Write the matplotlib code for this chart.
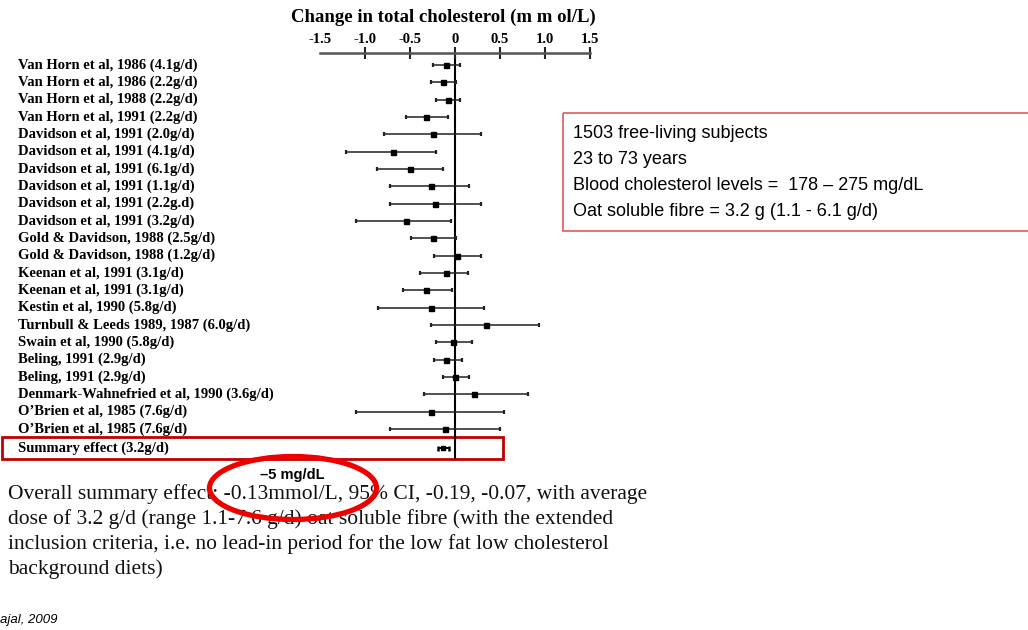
import matplotlib
matplotlib.use("Agg")
import matplotlib.pyplot as plt
import matplotlib.patches as patches
from matplotlib.transforms import blended_transform_factory
import numpy as np

W, H, DPI = 1028, 630, 100

# study rows (top to bottom) and their estimates / 95% CI in mmol/L
studies = [
    "Van Horn et al, 1986 (4.1g/d)",
    "Van Horn et al, 1986 (2.2g/d)",
    "Van Horn et al, 1988 (2.2g/d)",
    "Van Horn et al, 1991 (2.2g/d)",
    "Davidson et al, 1991 (2.0g/d)",
    "Davidson et al, 1991 (4.1g/d)",
    "Davidson et al, 1991 (6.1g/d)",
    "Davidson et al, 1991 (1.1g/d)",
    "Davidson et al, 1991 (2.2g.d)",
    "Davidson et al, 1991 (3.2g/d)",
    "Gold & Davidson, 1988 (2.5g/d)",
    "Gold & Davidson, 1988 (1.2g/d)",
    "Keenan et al, 1991 (3.1g/d)",
    "Keenan et al, 1991 (3.1g/d)",
    "Kestin et al, 1990 (5.8g/d)",
    "Turnbull & Leeds 1989, 1987 (6.0g/d)",
    "Swain et al, 1990 (5.8g/d)",
    "Beling, 1991 (2.9g/d)",
    "Beling, 1991 (2.9g/d)",
    "Denmark-Wahnefried et al, 1990 (3.6g/d)",
    "O\u2019Brien et al, 1985 (7.6g/d)",
    "O\u2019Brien et al, 1985 (7.6g/d)",
]
est = [-0.10, -0.135, -0.075, -0.32, -0.24, -0.69, -0.50, -0.27, -0.22, -0.55, -0.24,
       0.02, -0.10, -0.32, -0.27, 0.34, -0.02, -0.095, 0.005, 0.21, -0.27, -0.115]
lo = [-0.25, -0.27, -0.21, -0.55, -0.79, -1.21, -0.87, -0.72, -0.72, -1.10, -0.49,
      -0.235, -0.39, -0.58, -0.86, -0.27, -0.21, -0.23, -0.135, -0.35, -1.10, -0.72]
hi = [0.055, 0.016, 0.055, -0.083, 0.29, -0.21, -0.135, 0.155, 0.29, -0.05, 0.01,
      0.29, 0.14, -0.035, 0.32, 0.93, 0.19, 0.075, 0.16, 0.81, 0.54, 0.50]

summary_label = "Summary effect (3.2g/d)"
summary_est, summary_lo, summary_hi = -0.13, -0.19, -0.07

xticks = [-1.5, -1.0, -0.5, 0, 0.5, 1.0, 1.5]
xticklabels = ["-1.5", "-1.0", "-0.5", "0", "0.5", "1.0", "1.5"]

info_lines = [
    "1503 free-living subjects",
    "23 to 73 years",
    "Blood cholesterol levels =  178 \u2013 275 mg/dL",
    "Oat soluble fibre = 3.2 g (1.1 - 6.1 g/d)",
]
para_lines = [
    "Overall summary effect: -0.13mmol/L, 95% CI, -0.19, -0.07, with average",
    "dose of 3.2 g/d (range 1.1-7.6 g/d) oat soluble fibre (with the extended",
    "inclusion criteria, i.e. no lead-in period for the low fat low cholesterol",
    "background diets)",
]

SERIF = "Liberation Serif"
SANS = "Liberation Sans"

fig = plt.figure(figsize=(W / DPI, H / DPI), dpi=DPI)
fig.patch.set_facecolor("white")

# overlay in pixel coordinates for boxes and free text
ov = fig.add_axes([0, 0, 1, 1])
ov.set_xlim(0, W)
ov.set_ylim(H, 0)
ov.set_axis_off()

# forest axes: -1.5..1.5 spans pixel 320..590, top line at y=53, bottom at 459
top_px, bot_px = 53, 459
ax = fig.add_axes([320 / W, 1 - bot_px / H, 270 / W, (bot_px - top_px) / H])
ax.patch.set_alpha(0)
row_px = 17.33
rows = np.arange(len(studies))
summary_row = (448 - 65) / row_px
ax.set_xlim(-1.5, 1.5)
ax.set_ylim((bot_px - 65) / row_px, -(65 - top_px) / row_px)

est_a, lo_a, hi_a = np.array(est), np.array(lo), np.array(hi)
ax.errorbar(est_a, rows, xerr=[est_a - lo_a, hi_a - est_a], fmt="s", ms=3.6,
            color="black", ecolor="#222222", elinewidth=1.1, capsize=1.6, capthick=1.6)
ax.errorbar([summary_est], [summary_row],
            xerr=[[summary_est - summary_lo], [summary_hi - summary_est]],
            fmt="s", ms=3, color="black", elinewidth=1.4, capsize=1.8, capthick=1.8)
ax.axvline(0, color="black", lw=1.5, zorder=1)

for s in ["left", "right", "bottom"]:
    ax.spines[s].set_visible(False)
ax.spines["top"].set_color("#555555")
ax.spines["top"].set_linewidth(1.8)
ax.set_yticks([])
ax.xaxis.tick_top()
ax.set_xticks(xticks)
ax.set_xticklabels(xticklabels, fontfamily=SERIF, fontweight="bold", fontsize=10.5)
ax.tick_params(axis="x", direction="inout", length=9, width=1.5, color="#222222", pad=0.5)
ax.xaxis.get_major_ticks()[0].tick2line.set_visible(False)

# title above the scale
ov.text(443, 17, "Change in total cholesterol (m m ol/L)", ha="center", va="center",
        fontfamily=SERIF, fontweight="bold", fontsize=13.5)

# study labels, aligned with the rows
tr = blended_transform_factory(fig.transFigure, ax.transData)
for i, name in enumerate(studies):
    ax.text(18 / W, i, name, transform=tr, ha="left", va="center",
            fontfamily=SERIF, fontweight="bold", fontsize=10.5, clip_on=False)
ax.text(18 / W, summary_row, summary_label, transform=tr, ha="left", va="center",
        fontfamily=SERIF, fontweight="bold", fontsize=10.5, clip_on=False)

# red frame around the summary row
ov.add_patch(patches.Rectangle((2, 437), 501, 22, fill=False, edgecolor="#c00000", lw=2))

# info box on the right
ov.add_patch(patches.Rectangle((563, 113), 470, 118, fill=False, edgecolor="#e05a5a", lw=1.2))
for k, line in enumerate(info_lines):
    ov.text(573, 134 + 26 * k, line, ha="left", va="center", fontfamily=SANS, fontsize=13)

# paragraph under the plot
for k, line in enumerate(para_lines):
    ov.text(8, 494 + 25 * k, line, ha="left", va="center", fontfamily=SERIF,
            fontsize=15.5, color="#111111")

# red ellipse highlighting the effect size
ov.add_patch(patches.Ellipse((293, 488), 167, 63, fill=False, edgecolor="#ee0000", lw=3.8, zorder=5))
ov.text(292, 475, "\u20135 mg/dL", ha="center", va="center", fontfamily=SANS,
        fontweight="bold", fontsize=10.5, zorder=6)

ov.text(0, 620, "ajal, 2009", ha="left", va="center", fontfamily=SANS,
        fontstyle="italic", fontsize=9.5)

fig.savefig("out.png", dpi=DPI)
